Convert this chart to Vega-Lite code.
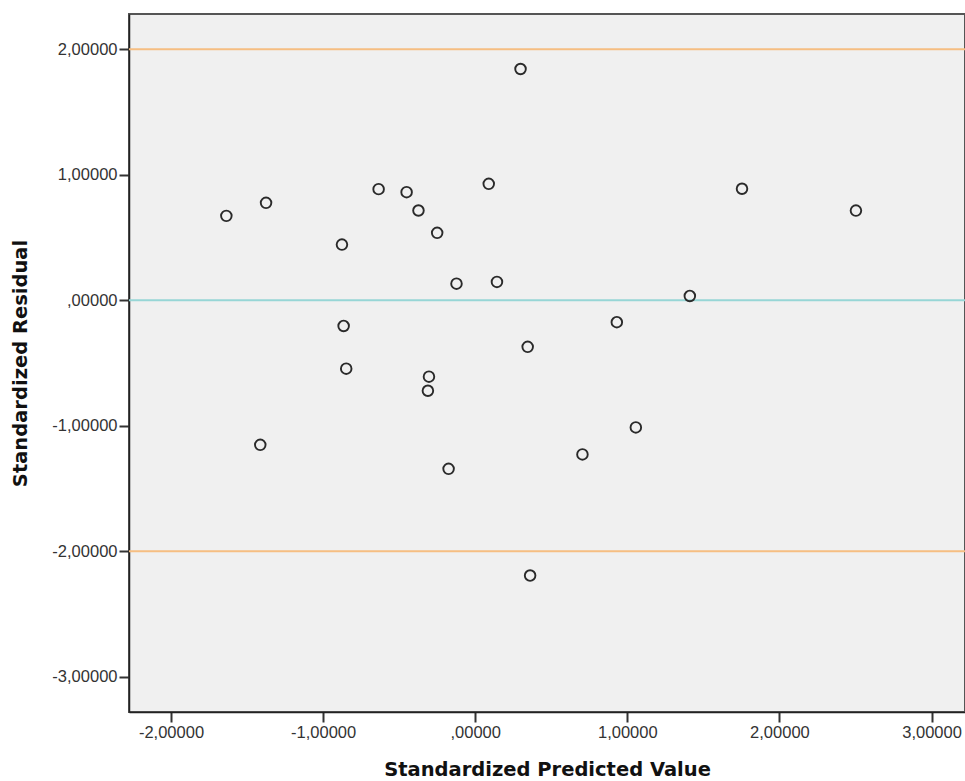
{
  "$schema": "https://vega.github.io/schema/vega-lite/v6.json",
  "autosize": "none",
  "padding": {"left": 129, "top": 14, "right": 0, "bottom": 69},
  "width": 836,
  "height": 698,
  "background": "#ffffff",
  "config": {
    "view": {"fill": "#F0F0F0", "stroke": "#555555", "strokeWidth": 2},
    "axis": {
      "labelFont": "Liberation Sans",
      "labelFontSize": 16.5,
      "labelColor": "#333333",
      "titleFont": "DejaVu Sans",
      "titleFontSize": 19.5,
      "titleFontWeight": "bold",
      "titleColor": "#111111",
      "domainColor": "#222222",
      "domainWidth": 1.5,
      "tickColor": "#333333",
      "tickWidth": 2,
      "tickSize": 10,
      "grid": false
    }
  },
  "datasets": {
    "points": [
      {"predicted": -1.636, "residual": 0.672},
      {"predicted": -1.375, "residual": 0.776},
      {"predicted": -1.413, "residual": -1.152},
      {"predicted": -0.876, "residual": 0.443},
      {"predicted": -0.865, "residual": -0.205},
      {"predicted": -0.848, "residual": -0.545},
      {"predicted": -0.635, "residual": 0.885},
      {"predicted": -0.451, "residual": 0.861},
      {"predicted": -0.373, "residual": 0.715},
      {"predicted": -0.250, "residual": 0.537},
      {"predicted": -0.304, "residual": -0.609},
      {"predicted": -0.311, "residual": -0.721},
      {"predicted": -0.175, "residual": -1.343},
      {"predicted": -0.123, "residual": 0.132},
      {"predicted": 0.089, "residual": 0.927},
      {"predicted": 0.143, "residual": 0.146},
      {"predicted": 0.298, "residual": 1.842},
      {"predicted": 0.345, "residual": -0.371},
      {"predicted": 0.361, "residual": -2.193},
      {"predicted": 0.705, "residual": -1.228},
      {"predicted": 0.931, "residual": -0.175},
      {"predicted": 1.056, "residual": -1.013},
      {"predicted": 1.411, "residual": 0.034},
      {"predicted": 1.754, "residual": 0.888},
      {"predicted": 2.503, "residual": 0.714}
    ],
    "limits": [{"level": 2}, {"level": -2}],
    "zero": [{"level": 0}]
  },
  "layer": [
    {
      "data": {"name": "limits"},
      "mark": {"type": "rule", "color": "#F6BE82", "strokeWidth": 2},
      "encoding": {
        "y": {"field": "level", "type": "quantitative", "scale": {"domain": [-3.28, 2.28], "nice": false, "zero": false}}
      }
    },
    {
      "data": {"name": "zero"},
      "mark": {"type": "rule", "color": "#97D6D6", "strokeWidth": 2},
      "encoding": {
        "y": {"field": "level", "type": "quantitative"}
      }
    },
    {
      "data": {"name": "points"},
      "mark": {"type": "point", "shape": "circle", "filled": false, "stroke": "#2a2a2a", "strokeWidth": 1.9, "size": 112, "opacity": 1},
      "encoding": {
        "x": {
          "field": "predicted", "type": "quantitative",
          "scale": {"domain": [-2.276, 3.22], "nice": false, "zero": false},
          "axis": {
            "title": "Standardized Predicted Value",
            "values": [-2, -1, 0, 1, 2, 3],
            "labelExpr": "datum.value == 0 ? ',00000' : replace(replace(format(datum.value, '.5f'), '.', ','), '\u2212', '-')",
            "labelPadding": 2,
            "titlePadding": 20
          }
        },
        "y": {
          "field": "residual", "type": "quantitative",
          "scale": {"domain": [-3.28, 2.28], "nice": false, "zero": false},
          "axis": {
            "title": "Standardized Residual",
            "values": [-3, -2, -1, 0, 1, 2],
            "labelExpr": "datum.value == 0 ? ',00000' : replace(replace(format(datum.value, '.5f'), '.', ','), '\u2212', '-')",
            "labelPadding": 2,
            "titlePadding": 21
          }
        }
      }
    }
  ]
}
